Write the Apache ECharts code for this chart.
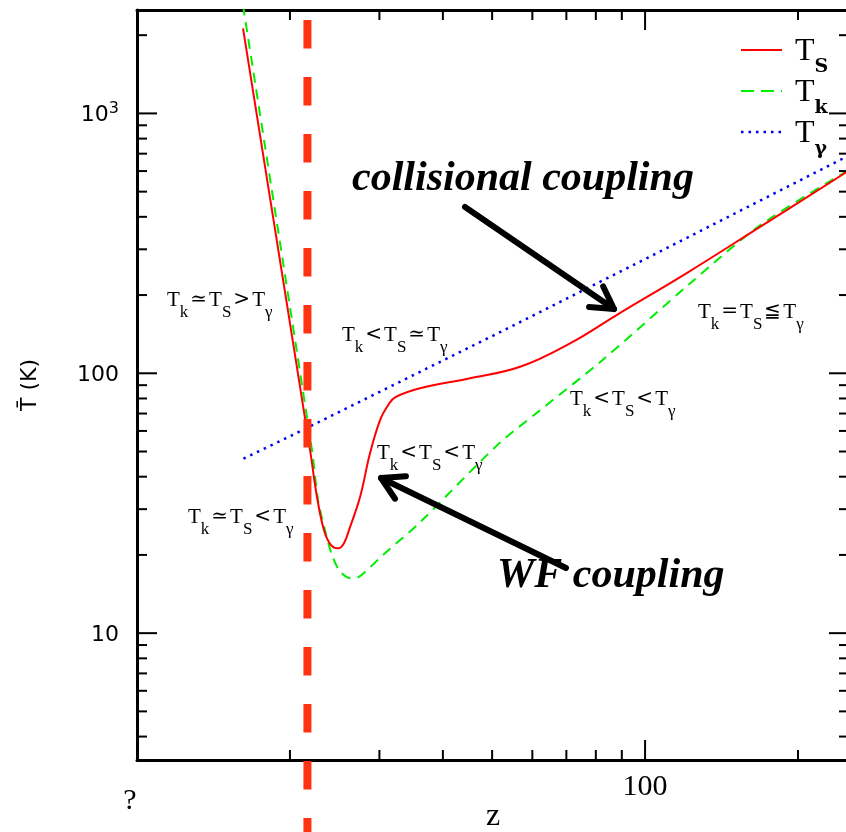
<!DOCTYPE html>
<html>
<head>
<meta charset="utf-8">
<script src="https://cdn.jsdelivr.net/npm/echarts@6/dist/echarts.min.js"></script>
<style>
  html, body { margin: 0; padding: 0; background: #fff; }
  #chart { width: 846px; height: 832px; }
</style>
</head>
<body>
<div id="chart"></div>
<script>
// axis ranges (log-log)
const xMin = 10, xMax = 252;
const yMin = 3.25, yMax = 2500;

// spin temperature T_S (red solid)
const zTs = [16.17, 21.91, 22.61, 23.34, 24.09, 24.87, 25.55, 26.26, 27.48, 28.75, 30.08, 31.2, 32.2, 36.06, 45.24, 56.76, 71.18, 88.06, 121.0, 168.4, 252];
const Ts  = [2123, 50.6, 33.4, 24.9, 21.8, 21.2, 22.2, 25.6, 33.4, 49.2, 65.9, 75.3, 80.8, 87.6, 95.7, 105.9, 130.4, 167.9, 243.5, 366, 603];

// kinetic temperature T_k (green dashed)
const zTk = [16.17, 22.1, 22.72, 23.45, 24.2, 25.09, 26.26, 27.23, 28.11, 30.5, 36.06, 51.14, 62.14, 81.53, 122.7, 168.4, 252];
const Tk  = [2600, 50.6, 32.5, 24.9, 19.95, 17.3, 16.3, 16.4, 17.2, 20.0, 26.7, 52.8, 72.1, 110.3, 221.9, 370.9, 606];

// CMB temperature T_gamma (blue dotted)
const zTg = [16.2, 20, 50, 100, 252];
const Tg  = [46.9, 57.2, 139, 275, 689];

// vertical dashed marker
const zCut = 21.65;
const cutSpan = [2750, 1.7];

// ticks
const xMajor = [10, 100];
const xMinor = [20, 30, 40, 50, 60, 70, 80, 90, 200];
const yMajor = [10, 100, 1000];
const yMinor = [4, 5, 6, 7, 8, 9, 20, 30, 40, 50, 60, 70, 80, 90, 200, 300, 400, 500, 600, 700, 800, 900, 2000];
const xLabelValues = [10, 100];
const xLabelTexts = ['?', '100'];
const yLabelValues = [10, 100, 1000];
const yLabelTexts = ['10', '100', '10³'];

const RED = '#ff0000', GREEN = '#00ee00', BLUE = '#0000ee', CUT = '#ff3311';
const SERIF = 'Liberation Serif';

function pair(xs, ys) { return xs.map((x, i) => [x, ys[i]]); }
function findLabel(vals, texts, v) {
  const i = vals.findIndex(u => Math.abs(u - v) / u < 1e-6);
  return i < 0 ? null : texts[i];
}

function tickSeries(values, axis, len) {
  return {
    type: 'custom', silent: true, clip: false, z: 6,
    data: values.map(v => axis === 'x' ? [v, yMin] : [xMin, v]),
    renderItem: (params, api) => {
      const st = { stroke: '#000', lineWidth: 2 };
      if (axis === 'x') {
        const v = api.value(0);
        const b = api.coord([v, yMin]), t = api.coord([v, yMax]);
        return { type: 'group', children: [
          { type: 'line', shape: { x1: b[0], y1: b[1], x2: b[0], y2: b[1] - len }, style: st },
          { type: 'line', shape: { x1: t[0], y1: t[1], x2: t[0], y2: t[1] + len }, style: st }
        ]};
      }
      const v = api.value(1);
      const l = api.coord([xMin, v]), r = api.coord([xMax, v]);
      return { type: 'group', children: [
        { type: 'line', shape: { x1: l[0], y1: l[1], x2: l[0] + len, y2: l[1] }, style: st },
        { type: 'line', shape: { x1: r[0], y1: r[1], x2: r[0] - len, y2: r[1] }, style: st }
      ]};
    }
  };
}

// rich text styles for the T_x relations
const annRich = {
  t:  { fontFamily: SERIF, fontSize: 21, lineHeight: 22, color: '#000', verticalAlign: 'top' },
  tr: { fontFamily: SERIF, fontSize: 21, lineHeight: 22, color: RED, verticalAlign: 'top' },
  o:  { fontFamily: 'DejaVu Serif', fontSize: 20, lineHeight: 22, color: '#000', verticalAlign: 'top', padding: [0, 2, 0, 2] },
  s:  { fontFamily: SERIF, fontSize: 17, lineHeight: 16, color: '#000', verticalAlign: 'top', padding: [14, 0, 0, 0] },
  sr: { fontFamily: SERIF, fontSize: 17, lineHeight: 16, color: RED, verticalAlign: 'top', padding: [14, 0, 0, 0] }
};
const annotations = [
  { text: '{t|T}{s|k}{o|≃}{tr|T}{sr|S}{o|>}{t|T}{s|γ}', x: 167, y: 290 },
  { text: '{t|T}{s|k}{o|<}{tr|T}{sr|S}{o|≃}{t|T}{s|γ}', x: 342, y: 325 },
  { text: '{t|T}{s|k}{o|<}{tr|T}{sr|S}{o|<}{t|T}{s|γ}', x: 377, y: 443 },
  { text: '{t|T}{s|k}{o|≃}{tr|T}{sr|S}{o|<}{t|T}{s|γ}', x: 188, y: 507 },
  { text: '{t|T}{s|k}{o|=}{tr|T}{sr|S}{o|≦}{t|T}{s|γ}', x: 698, y: 302 },
  { text: '{t|T}{s|k}{o|<}{tr|T}{sr|S}{o|<}{t|T}{s|γ}', x: 570, y: 389 }
];

function arrow(tail, tip) {
  const ang = Math.atan2(tail[1] - tip[1], tail[0] - tip[0]);
  const L = 25, a = Math.PI / 6;
  const p1 = [tip[0] + L * Math.cos(ang - a), tip[1] + L * Math.sin(ang - a)];
  const p2 = [tip[0] + L * Math.cos(ang + a), tip[1] + L * Math.sin(ang + a)];
  const st = { stroke: '#000', lineWidth: 6, lineCap: 'round', lineJoin: 'round', fill: null };
  return [
    { type: 'line', shape: { x1: tail[0], y1: tail[1], x2: tip[0], y2: tip[1] }, style: st, z: 50 },
    { type: 'polyline', shape: { points: [p1, tip, p2] }, style: st, z: 50 }
  ];
}

function legendItem(y, color, dash, sub, width) {
  return [
    { type: 'line', shape: { x1: 741, y1: y, x2: 782, y2: y },
      style: { stroke: color, lineWidth: width, lineDash: dash }, z: 50 },
    { type: 'text', x: 795, y: y - 14, z: 50,
      style: { text: '{T|T}{S|' + sub + '}', align: 'left', verticalAlign: 'top',
        rich: {
          T: { fontFamily: SERIF, fontSize: 32, lineHeight: 34, color: color, verticalAlign: 'top' },
          S: { fontFamily: 'DejaVu Serif', fontSize: 19, lineHeight: 22, fontWeight: 'bold', color: color, verticalAlign: 'top', padding: [22, 0, 0, 0] }
        } } }
  ];
}

const graphics = []
  .concat(annotations.map(a => ({ type: 'text', x: a.x, y: a.y, z: 40,
    style: { text: a.text, rich: annRich, align: 'left', verticalAlign: 'top' } })))
  .concat([
    { type: 'text', x: 352, y: 179, z: 40, style: { text: 'collisional coupling', fontFamily: SERIF,
      fontSize: 42, fontWeight: 'bold', fontStyle: 'italic', fill: '#000', align: 'left', verticalAlign: 'middle' } },
    { type: 'text', x: 497, y: 576, z: 40, style: { text: 'WF coupling', fontFamily: SERIF,
      fontSize: 42, fontWeight: 'bold', fontStyle: 'italic', fill: '#000', align: 'left', verticalAlign: 'middle' } }
  ])
  .concat(arrow([465, 207], [614, 309]))
  .concat(arrow([566, 568], [381, 478]))
  .concat(legendItem(50, RED, null, 'S', 2))
  .concat(legendItem(91, GREEN, [13, 7], 'k', 2))
  .concat(legendItem(132, BLUE, [2.5, 5], 'γ', 2.5));

const axisLineStyle = { show: true, onZero: false, lineStyle: { color: '#000', width: 3 } };

const option = {
  animation: false,
  backgroundColor: '#fff',
  grid: { left: 137, top: 10, width: 712, height: 750, outerBoundsMode: 'none', containLabel: false },
  xAxis: [
    { type: 'log', logBase: 10, min: xMin, max: xMax,
      name: 'z', nameLocation: 'middle', nameGap: 41, nameMoveOverlap: false,
      nameTextStyle: { fontFamily: SERIF, fontSize: 32, color: '#000' },
      axisLine: axisLineStyle, axisTick: { show: false }, splitLine: { show: false },
      axisLabel: { margin: 12, fontFamily: SERIF, fontSize: 30, color: '#000',
        formatter: v => { const t = findLabel(xLabelValues, xLabelTexts, v);
          return t === null ? '' : (t === '?' ? '{q|?}' : t); },
        rich: { q: { fontFamily: SERIF, fontSize: 30, color: '#000', padding: [14, 14, 0, 0] } } } },
    { type: 'log', logBase: 10, min: xMin, max: xMax, position: 'top',
      axisLine: axisLineStyle, axisTick: { show: false }, axisLabel: { show: false }, splitLine: { show: false } }
  ],
  yAxis: [
    { type: 'log', logBase: 10, min: yMin, max: yMax,
      name: 'T\u0304 (K)', nameLocation: 'middle', nameGap: 96, nameMoveOverlap: false,
      nameTextStyle: { fontFamily: 'DejaVu Sans', fontSize: 22, color: '#000' },
      axisLine: axisLineStyle, axisTick: { show: false }, splitLine: { show: false },
      axisLabel: { margin: 18, fontFamily: 'DejaVu Sans', fontSize: 22, color: '#000',
        formatter: v => { const t = findLabel(yLabelValues, yLabelTexts, v);
          if (t === null) return '';
          return t === '10³' ? '{b|10}{p|3}' : '{b|' + t + '}'; },
        rich: {
          b: { fontFamily: 'DejaVu Sans', fontSize: 22, lineHeight: 26, color: '#000', verticalAlign: 'bottom' },
          p: { fontFamily: 'DejaVu Sans', fontSize: 16, lineHeight: 16, color: '#000', verticalAlign: 'top' }
        } } },
    { type: 'log', logBase: 10, min: yMin, max: yMax, position: 'right',
      axisLine: axisLineStyle, axisTick: { show: false }, axisLabel: { show: false }, splitLine: { show: false } }
  ],
  series: [
    { name: 'Tγ', type: 'line', data: pair(zTg, Tg), symbol: 'none', z: 3,
      lineStyle: { color: BLUE, width: 2.5, type: [2.5, 5] } },
    { name: 'Tk', type: 'line', data: pair(zTk, Tk), symbol: 'none', smooth: 0.3, z: 3,
      lineStyle: { color: GREEN, width: 2, type: [10, 7] } },
    { name: 'Ts', type: 'line', data: pair(zTs, Ts), symbol: 'none', smooth: 0.4, z: 4,
      lineStyle: { color: RED, width: 2, type: 'solid' } },
    { name: 'cut', type: 'line', data: [[zCut, cutSpan[0]], [zCut, cutSpan[1]]], symbol: 'none',
      clip: false, silent: true, z: 10,
      lineStyle: { color: CUT, width: 8, type: [28.5, 28.5], dashOffset: 36.3, cap: 'butt' } },
    tickSeries(xMajor, 'x', 20),
    tickSeries(xMinor, 'x', 10),
    tickSeries(yMajor, 'y', 20),
    tickSeries(yMinor, 'y', 10)
  ],
  graphic: graphics
};

const chart = echarts.init(document.getElementById('chart'), null, { renderer: 'canvas' });
chart.setOption(option);
</script>
</body>
</html>
